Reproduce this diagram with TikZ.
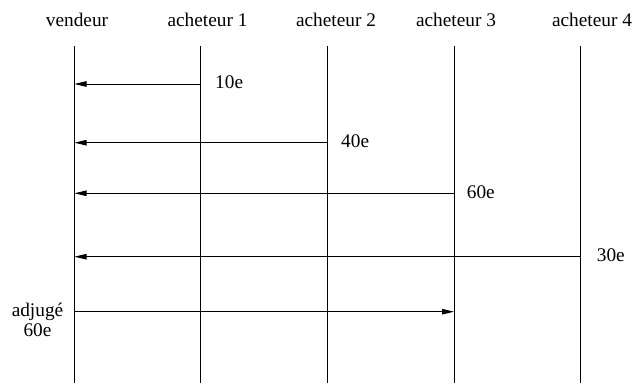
\documentclass[tikz,border=0pt]{standalone}
\usepackage{fontspec}
\setmainfont{Liberation Serif}
\usetikzlibrary{arrows.meta}
\begin{document}
\begin{tikzpicture}[x=1pt,y=-1pt,
  lbl/.style={font=\fontsize{19.3}{19.5}\selectfont,inner sep=0pt},
  life/.style={draw=black,line width=0.8pt},
  msg/.style={draw=black,line width=0.8pt,-{Triangle[length=12pt,width=5.5pt]}}]
\useasboundingbox (0,0) rectangle (634,383);
% headers
\node[lbl,anchor=base] (hv) at (77,26) {vendeur};
\node[lbl,anchor=base] (h1) at (207.5,26) {acheteur 1};
\node[lbl,anchor=base] (h2) at (336,26) {acheteur 2};
\node[lbl,anchor=base] (h3) at (456,26) {acheteur 3};
\node[lbl,anchor=base] (h4) at (592,26) {acheteur 4};
% lifelines
\foreach \n/\x in {v/74.5,a/200.5,b/327.5,c/454,d/580.5}{
  \coordinate (\n top) at (\x,46);
  \coordinate (\n bot) at (\x,383);
  \draw[life] (\n top) -- (\n bot);
}
% messages
\coordinate (m1s) at (200.5,84); \coordinate (m1e) at (74.5,84);
\coordinate (m2s) at (327.5,142.7); \coordinate (m2e) at (74.5,142.7);
\coordinate (m3s) at (454,193.3); \coordinate (m3e) at (74.5,193.3);
\coordinate (m4s) at (580.5,256.7); \coordinate (m4e) at (74.5,256.7);
\coordinate (m5s) at (74.5,311.7); \coordinate (m5e) at (454,311.7);
\draw[msg] (m1s) -- (m1e);
\draw[msg] (m2s) -- (m2e);
\draw[msg] (m3s) -- (m3e);
\draw[msg] (m4s) -- (m4e);
\draw[msg] (m5s) -- (m5e);
% labels
\node[lbl,anchor=base west] (l1) at (215,88) {10e};
\node[lbl,anchor=base west] (l2) at (341,147.5) {40e};
\node[lbl,anchor=base west] (l3) at (466.7,198) {60e};
\node[lbl,anchor=base west] (l4) at (596.7,261.5) {30e};
\node[lbl,anchor=base] (l5a) at (37.5,316.7) {adjugé};
\node[lbl,anchor=base] (l5b) at (37.5,336) {60e};
\end{tikzpicture}
\end{document}
